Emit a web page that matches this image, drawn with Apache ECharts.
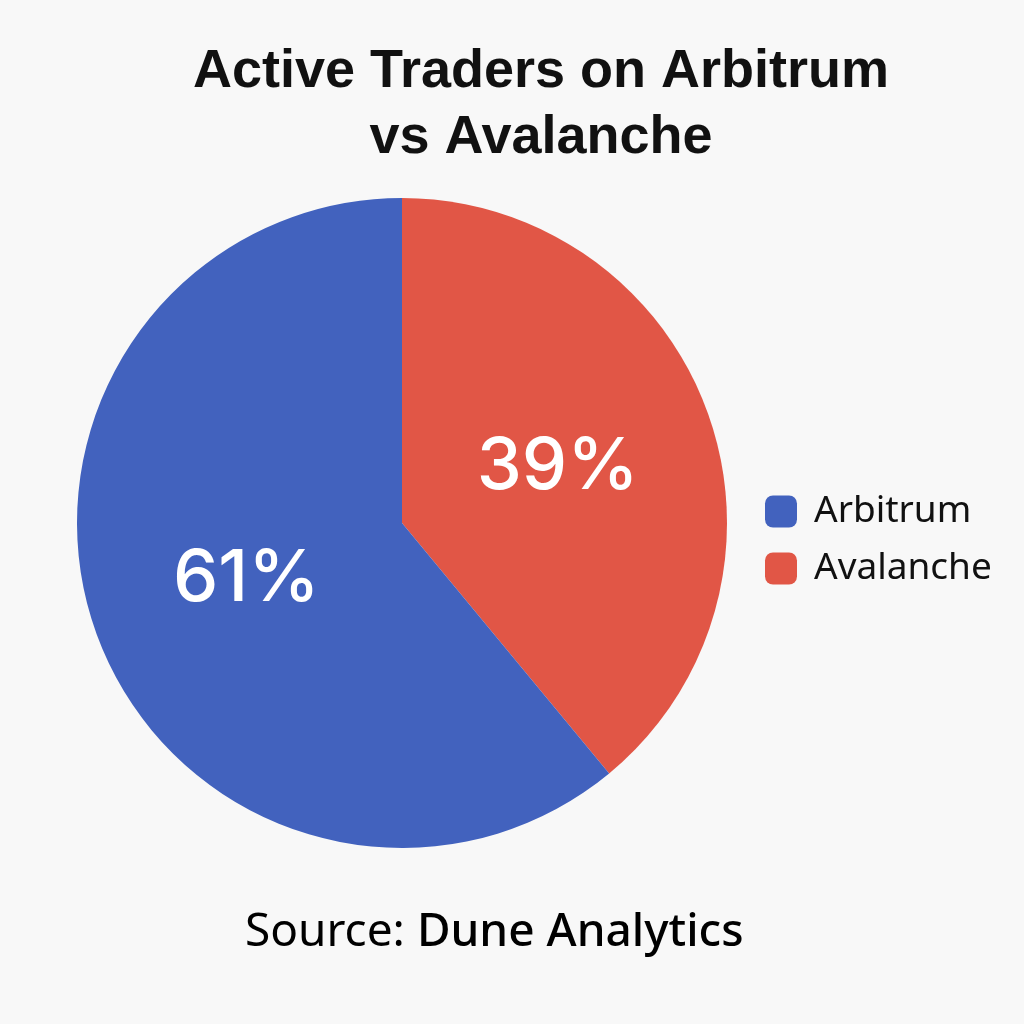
<!DOCTYPE html>
<html>
<head>
<meta charset="utf-8">
<script src="https://cdn.jsdelivr.net/npm/echarts@6/dist/echarts.min.js"></script>
<style>
  html, body { margin: 0; padding: 0; background: #f8f8f8; }
  #main { width: 1024px; height: 1024px; }
</style>
</head>
<body>
<div id="main"></div>
<script>
const names = ['Avalanche', 'Arbitrum']
const shares = [39, 61]
const colors = ['#e15646', '#4262be']
const legendOrder = ['Arbitrum', 'Avalanche']

const chart = echarts.init(document.getElementById('main'))

const pieData = names.map((n, i) => ({
  name: n,
  value: shares[i],
  itemStyle: { color: colors[i] }
}))

chart.setOption({
  backgroundColor: '#f8f8f8',
  title: {
    text: 'Active Traders on Arbitrum\nvs Avalanche',
    left: 536,
    top: 34,
    textAlign: 'center',
    textStyle: {
      fontFamily: 'Liberation Sans',
      fontWeight: 'bold',
      fontSize: 54,
      lineHeight: 66,
      color: '#111'
    }
  },
  legend: {
    data: legendOrder,
    orient: 'vertical',
    left: 760,
    top: 488,
    icon: 'roundRect',
    itemWidth: 32,
    itemHeight: 32,
    itemGap: 20,
    textStyle: {
      fontFamily: 'Noto Sans',
      fontSize: 37,
      color: '#111',
      padding: [0, 0, 0, 12]
    }
  },
  graphic: [{
    type: 'text',
    left: 245,
    top: 910,
    style: {
      text: '{a|Source: }{b|Dune Analytics}',
      rich: {
        a: { fontFamily: 'Noto Sans', fontSize: 46, color: '#111' },
        b: { fontFamily: 'Noto Sans', fontSize: 46, fontWeight: 500, color: '#111' }
      }
    }
  }],
  series: [{
    type: 'pie',
    center: [402, 523],
    radius: 325,
    startAngle: 90,
    clockwise: true,
    label: {
      show: true,
      position: 'inside',
      formatter: '{c}%',
      color: '#fff',
      fontFamily: 'Inter',
      fontSize: 72,
      fontWeight: 500
    },
    labelLine: { show: false },
    emphasis: { disabled: true },
    data: pieData
  }]
})
</script>
</body>
</html>
